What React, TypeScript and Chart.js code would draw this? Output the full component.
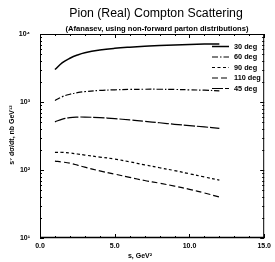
import React, { useEffect, useRef } from "react";
import { Chart, registerables } from "chart.js";

Chart.register(...registerables);

const sValues = [1, 1.5, 2, 2.5, 3, 4, 5, 6, 7, 8, 9, 10, 11, 12];
const deg30 = [3000, 3800, 4400, 4900, 5300, 5800, 6150, 6400, 6600, 6750, 6900, 7000, 7100, 7150];
const deg60 = [1050, 1200, 1300, 1370, 1420, 1480, 1510, 1530, 1540, 1540, 1530, 1510, 1490, 1460];
const deg45 = [510, 560, 590, 600, 600, 590, 570, 545, 520, 495, 470, 450, 430, 410];
const deg90 = [182, 182, 178, 172, 166, 155, 145, 132, 119, 108, 98, 88, 79, 71];
const deg110 = [135, 131, 126, 118, 110, 97, 87, 78, 70, 64, 58, 52, 46, 40];

const legendOrder = ["30 deg", "60 deg", "90 deg", "110 deg", "45 deg"];
const xTicks = [0, 5, 10, 15];
const yTicks = [10, 100, 1000, 10000];
const supers: Record<string, string> = { "1": "¹", "2": "²", "3": "³", "4": "⁴" };

const titleText = "Pion (Real) Compton Scattering";
const subtitleText = "(Afanasev, using non-forward parton distributions)";
const xTitle = "s, GeV²";
const yTitle = "s⁷ dσ/dt, nb GeV¹²";

const FONT = "'Liberation Sans', Arial, sans-serif";

export default function App() {
  const ref = useRef<HTMLCanvasElement>(null);
  useEffect(() => {
    document.body.style.margin = "0";
    const mk = (arr: number[]) => sValues.map((s, i) => ({ x: s, y: arr[i] }));
    const base = { pointRadius: 0, borderColor: "#000", backgroundColor: "#000", fill: false, tension: 0.4, borderWidth: 1.2 };
    const datasets: any[] = [
      { ...base, label: "30 deg", data: mk(deg30), borderDash: [], borderWidth: 1.5 },
      { ...base, label: "60 deg", data: mk(deg60), borderDash: [6, 2, 1.5, 2] },
      { ...base, label: "45 deg", data: mk(deg45), borderDash: [11, 2] },
      { ...base, label: "90 deg", data: mk(deg90), borderDash: [3, 2.5] },
      { ...base, label: "110 deg", data: mk(deg110), borderDash: [6, 3] },
    ];

    const deco = {
      id: "deco",
      afterDraw(chart: any) {
        const ctx = chart.ctx;
        const a = chart.chartArea;
        const xs = chart.scales.x;
        const ys = chart.scales.y;
        ctx.save();
        ctx.strokeStyle = "#000";
        ctx.lineWidth = 1;
        ctx.setLineDash([]);
        ctx.strokeRect(a.left + 0.5, a.top + 0.5, a.right - a.left - 1, a.bottom - a.top - 1);
        ctx.beginPath();
        ctx.lineWidth = 1.5;
        ctx.moveTo(a.left, a.bottom - 0.5);
        ctx.lineTo(a.right, a.bottom - 0.5);
        ctx.stroke();
        ctx.lineWidth = 1;
        ctx.beginPath();
        for (const t of xTicks) {
          const px = Math.round(xs.getPixelForValue(t)) + 0.5;
          ctx.moveTo(px, a.bottom);
          ctx.lineTo(px, a.bottom - 4);
          ctx.moveTo(px, a.top);
          ctx.lineTo(px, a.top + 4);
        }
        for (let t = 1; t < 15; t++) {
          if (t % 5 === 0) continue;
          const px = Math.round(xs.getPixelForValue(t)) + 0.5;
          ctx.moveTo(px, a.bottom);
          ctx.lineTo(px, a.bottom - 2);
          ctx.moveTo(px, a.top);
          ctx.lineTo(px, a.top + 2);
        }
        for (let d = 10; d <= 10000; d *= 10) {
          for (let m = 1; m <= 9; m++) {
            const v = d * m;
            if (v > 10000) break;
            const py = Math.round(ys.getPixelForValue(v)) + 0.5;
            const len = m === 1 ? 4 : 2;
            ctx.moveTo(a.left, py);
            ctx.lineTo(a.left + len, py);
            ctx.moveTo(a.right, py);
            ctx.lineTo(a.right - len, py);
          }
        }
        ctx.stroke();

        ctx.fillStyle = "#000";
        ctx.textAlign = "center";
        ctx.textBaseline = "middle";
        ctx.font = `12.3px ${FONT}`;
        ctx.fillText(titleText, 156, 14);
        ctx.font = `bold 7.6px ${FONT}`;
        ctx.fillText(subtitleText, 157, 29);
        ctx.font = `bold 7px ${FONT}`;
        ctx.fillText(xTitle, 140, 256);
        ctx.save();
        ctx.translate(12, 135);
        ctx.rotate(-Math.PI / 2);
        ctx.fillText(yTitle, 0, 0);
        ctx.restore();

        ctx.textAlign = "left";
        ctx.font = `bold 7.3px ${FONT}`;
        legendOrder.forEach((lab, i) => {
          const ds = chart.data.datasets.find((d: any) => d.label === lab);
          const y = 46 + i * 10.5;
          ctx.beginPath();
          ctx.lineWidth = ds.borderWidth;
          ctx.setLineDash(ds.borderDash || []);
          ctx.moveTo(212, y + 0.5);
          ctx.lineTo(229, y + 0.5);
          ctx.stroke();
          ctx.setLineDash([]);
          ctx.fillText(lab, 234, y + 0.5);
        });
        ctx.restore();
      },
    };

    const chart = new Chart(ref.current!, {
      type: "line",
      data: { datasets },
      options: {
        animation: false,
        responsive: false,
        maintainAspectRatio: false,
        layout: { padding: { top: 34, right: 3, left: 0, bottom: 0 } },
        plugins: { legend: { display: false }, title: { display: false }, tooltip: { enabled: false } },
        scales: {
          x: {
            type: "linear",
            min: 0,
            max: 15,
            afterFit: (s: any) => { s.height = 24; },
            grid: { display: false, drawTicks: false },
            border: { display: false },
            afterBuildTicks: (s: any) => { s.ticks = xTicks.map((v) => ({ value: v })); },
            ticks: {
              padding: 4,
              maxRotation: 0,
              autoSkip: false,
              color: "#000",
              font: { size: 7, weight: "bold", family: FONT },
              callback: (v: any) => Number(v).toFixed(1),
            },
          },
          y: {
            type: "logarithmic",
            min: 10,
            max: 10000,
            afterFit: (s: any) => { s.width = 40; },
            grid: { display: false, drawTicks: false },
            border: { display: false },
            afterBuildTicks: (s: any) => { s.ticks = yTicks.map((v) => ({ value: v })); },
            ticks: {
              padding: 10,
              autoSkip: false,
              color: "#000",
              font: { size: 7, weight: "bold", family: FONT },
              callback: (v: any) => "10" + supers[String(Math.round(Math.log10(Number(v))))],
            },
          },
        },
      },
      plugins: [deco],
    });
    return () => chart.destroy();
  }, []);
  return <canvas ref={ref} width={275} height={262} style={{ display: "block" }} />;
}
